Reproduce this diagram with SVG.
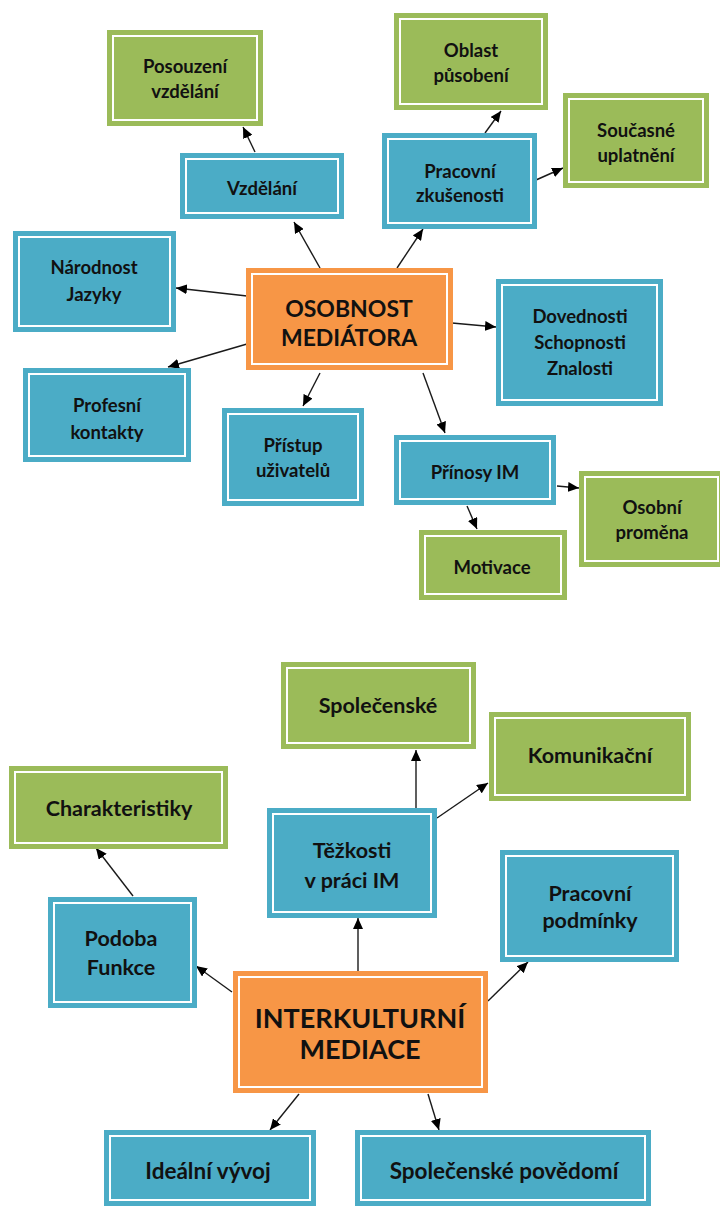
<svg xmlns="http://www.w3.org/2000/svg" width="720" height="1206" viewBox="0 0 720 1206">
<style>
.g{fill:#9BBB59}
.b{fill:#4BACC6}
.o{fill:#F79646}
.in{fill:none;stroke:#fff;stroke-width:2}
text{font-family:Lato,"Liberation Sans",sans-serif;font-weight:bold;fill:#111;text-anchor:middle;dominant-baseline:central}
.t1{font-size:18.5px}
.t2{font-size:21.5px}
.t3{font-size:22.5px}
.c1{font-size:23px}
.c2{font-size:27px}
.cn line{stroke:#1a1a1a;stroke-width:1.4;marker-end:url(#ah)}
</style>
<defs>
<marker id="ah" markerUnits="userSpaceOnUse" markerWidth="12" markerHeight="10" refX="11" refY="5" orient="auto">
<path d="M0,0 L11,5 L0,10 z" fill="#000"/>
</marker>
</defs>
<rect width="720" height="1206" fill="#fff"/>

<g class="cn">
<line x1="320" y1="268" x2="294" y2="222"/>
<line x1="397" y1="268" x2="423" y2="229"/>
<line x1="255" y1="152" x2="243" y2="127"/>
<line x1="485" y1="133" x2="501" y2="111"/>
<line x1="536" y1="180" x2="563" y2="168"/>
<line x1="247" y1="296" x2="176" y2="288"/>
<line x1="247" y1="344" x2="168" y2="367"/>
<line x1="452" y1="323" x2="496" y2="327"/>
<line x1="320" y1="373" x2="303" y2="406"/>
<line x1="423" y1="373" x2="445" y2="433"/>
<line x1="557" y1="486" x2="579" y2="488"/>
<line x1="467" y1="506" x2="477" y2="529"/>
<line x1="358" y1="971" x2="358" y2="918"/>
<line x1="416" y1="808" x2="416" y2="750"/>
<line x1="437" y1="818" x2="488" y2="783"/>
<line x1="133" y1="896" x2="96" y2="848"/>
<line x1="232" y1="992" x2="196" y2="966"/>
<line x1="488" y1="1001" x2="528" y2="962"/>
<line x1="299" y1="1094" x2="270" y2="1130"/>
<line x1="428" y1="1094" x2="439" y2="1130"/>
</g>

<g id="posouzeni"><rect class="g" x="107" y="30" width="156" height="96"/><rect class="in" x="113" y="36" width="144" height="84"/><text class="t1" x="185" y="66">Posouzení</text><text class="t1" x="185" y="91">vzdělání</text></g>
<g id="vzdelani"><rect class="b" x="180" y="153" width="164" height="66"/><rect class="in" x="186" y="159" width="152" height="54"/><text class="t1" x="262" y="188">Vzdělání</text></g>
<g id="oblast"><rect class="g" x="394" y="13" width="154" height="97"/><rect class="in" x="400" y="19" width="142" height="85"/><text class="t1" x="471" y="50">Oblast</text><text class="t1" x="471" y="75">působení</text></g>
<g id="pracovni-zkusenosti"><rect class="b" x="382" y="133" width="155" height="96"/><rect class="in" x="388" y="139" width="143" height="84"/><text class="t1" x="460" y="171">Pracovní</text><text class="t1" x="460" y="195">zkušenosti</text></g>
<g id="soucasne"><rect class="g" x="563" y="93" width="146" height="95"/><rect class="in" x="569" y="99" width="134" height="83"/><text class="t1" x="636" y="130">Současné</text><text class="t1" x="636" y="155">uplatnění</text></g>
<g id="narodnost"><rect class="b" x="13" y="231" width="163" height="101"/><rect class="in" x="19" y="237" width="151" height="89"/><text class="t1" x="94" y="267">Národnost</text><text class="t1" x="94" y="294">Jazyky</text></g>
<g id="osobnost"><rect class="o" x="246" y="268" width="207" height="102"/><rect class="in" x="252" y="274" width="195" height="90"/><text class="c1" x="349" y="308">OSOBNOST</text><text class="c1" x="349" y="337">MEDIÁTORA</text></g>
<g id="dovednosti"><rect class="b" x="496" y="279" width="167" height="127"/><rect class="in" x="502" y="285" width="155" height="115"/><text class="t1" x="580" y="316">Dovednosti</text><text class="t1" x="580" y="342">Schopnosti</text><text class="t1" x="580" y="368">Znalosti</text></g>
<g id="profesni"><rect class="b" x="23" y="368" width="168" height="94"/><rect class="in" x="29" y="374" width="156" height="82"/><text class="t1" x="107" y="405">Profesní</text><text class="t1" x="107" y="432">kontakty</text></g>
<g id="pristup"><rect class="b" x="222" y="408" width="142" height="98"/><rect class="in" x="228" y="414" width="130" height="86"/><text class="t1" x="293" y="445">Přístup</text><text class="t1" x="293" y="470">uživatelů</text></g>
<g id="prinosy"><rect class="b" x="394" y="435" width="162" height="70"/><rect class="in" x="400" y="441" width="150" height="58"/><text class="t1" x="475" y="472">Přínosy IM</text></g>
<g id="osobni"><rect class="g" x="579" y="471" width="145" height="96"/><rect class="in" x="585" y="477" width="133" height="84"/><text class="t1" x="652" y="507">Osobní</text><text class="t1" x="652" y="532">proměna</text></g>
<g id="motivace"><rect class="g" x="419" y="530" width="148" height="70"/><rect class="in" x="425" y="536" width="136" height="58"/><text class="t1" x="492" y="567">Motivace</text></g>

<g id="spolecenske"><rect class="g" x="281" y="662" width="195" height="87"/><rect class="in" x="287" y="668" width="183" height="75"/><text class="t2" x="378" y="705">Společenské</text></g>
<g id="komunikacni"><rect class="g" x="489" y="712" width="202" height="89"/><rect class="in" x="495" y="718" width="190" height="77"/><text class="t2" x="590" y="755">Komunikační</text></g>
<g id="charakteristiky"><rect class="g" x="9" y="766" width="219" height="83"/><rect class="in" x="15" y="772" width="207" height="71"/><text class="t2" x="119" y="808">Charakteristiky</text></g>
<g id="tezkosti"><rect class="b" x="267" y="808" width="170" height="110"/><rect class="in" x="273" y="814" width="158" height="98"/><text class="t2" x="352" y="850">Těžkosti</text><text class="t2" x="352" y="880">v práci IM</text></g>
<g id="pracovni-podminky"><rect class="b" x="500" y="850" width="179" height="112"/><rect class="in" x="506" y="856" width="167" height="100"/><text class="t2" x="590" y="893">Pracovní</text><text class="t2" x="590" y="920">podmínky</text></g>
<g id="podoba"><rect class="b" x="48" y="897" width="149" height="111"/><rect class="in" x="54" y="903" width="137" height="99"/><text class="t2" x="121" y="938">Podoba</text><text class="t2" x="121" y="967">Funkce</text></g>
<g id="interkulturni"><rect class="o" x="233" y="971" width="255" height="122"/><rect class="in" x="239" y="977" width="243" height="110"/><text class="c2" x="360" y="1017">INTERKULTURNÍ</text><text class="c2" x="360" y="1048">MEDIACE</text></g>
<g id="idealni"><rect class="b" x="104" y="1130" width="212" height="76"/><rect class="in" x="110" y="1136" width="200" height="64"/><text class="t3" x="208" y="1170">Ideální vývoj</text></g>
<g id="povedomi"><rect class="b" x="355" y="1130" width="296" height="76"/><rect class="in" x="361" y="1136" width="284" height="64"/><text class="t3" x="504" y="1170">Společenské povědomí</text></g>
</svg>
